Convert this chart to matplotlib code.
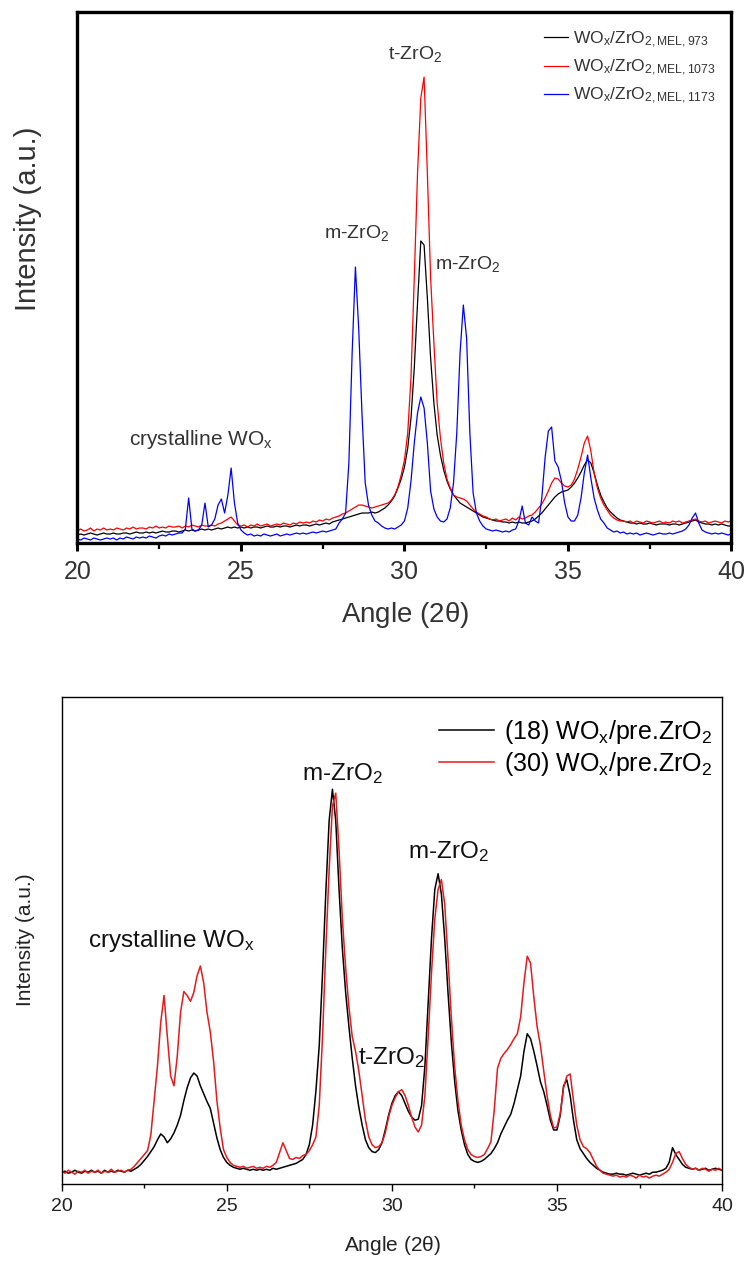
import numpy as np
import matplotlib
matplotlib.use("Agg")
import matplotlib.pyplot as plt
from matplotlib.ticker import MultipleLocator

plt.rcParams['font.family'] = ['Liberation Sans', 'DejaVu Sans']
plt.rcParams['mathtext.fontset'] = 'custom'
plt.rcParams['mathtext.rm'] = 'Liberation Sans'
plt.rcParams['mathtext.it'] = 'Liberation Sans:italic'

# scan angles, 0.1 deg step
angle = np.round(np.linspace(20.0, 40.0, 201), 1)

# ---------------- MEL series (intensity, a.u.) ----------------
mel_973 = [
    8, 9, 8, 9, 10, 9, 8, 9, 10, 9,
    9, 10, 9, 9, 10, 10, 9, 10, 11, 10,
    10, 11, 10, 11, 10, 11, 12, 11, 11, 12,
    12, 11, 12, 13, 12, 13, 12, 13, 14, 13,
    14, 13, 14, 15, 14, 15, 16, 15, 16, 15,
    16, 15, 16, 15, 16, 16, 15, 16, 17, 16,
    16, 17, 16, 17, 17, 16, 17, 18, 17, 18,
    18, 17, 18, 19, 18, 19, 20, 19, 21, 22,
    23, 24, 25, 26, 27, 28, 29, 30, 30, 30,
    31, 30, 31, 33, 35, 38, 42, 47, 55, 64,
    76, 95, 125, 175, 240, 302, 298, 245, 185, 140,
    108, 88, 73, 62, 54, 48, 44, 40, 38, 36,
    34, 32, 30, 28, 26, 25, 24, 23, 22, 22,
    21, 21, 20, 21, 20, 21, 20, 20, 21, 22,
    24, 27, 30, 34, 38, 42, 46, 49, 51, 52,
    53, 56, 60, 65, 71, 78, 83, 80, 70, 58,
    48, 41, 35, 31, 28, 25, 23, 22, 21, 20,
    20, 19, 20, 19, 19, 20, 19, 18, 19, 19,
    19, 18, 19, 19, 18, 19, 20, 21, 22, 23,
    21, 20, 19, 19, 18, 19, 18, 19, 18, 17,
    17]

mel_1073 = [
    12, 14, 12, 13, 15, 12, 14, 13, 15, 13,
    14, 13, 15, 14, 13, 15, 14, 16, 14, 15,
    15, 14, 16, 15, 17, 15, 16, 15, 17, 16,
    16, 17, 15, 17, 16, 18, 17, 16, 18, 17,
    17, 18, 17, 19, 20, 22, 24, 26, 22, 18,
    17, 18, 16, 18, 17, 19, 17, 18, 19, 17,
    18, 19, 18, 20, 19, 18, 20, 19, 21, 20,
    21, 20, 22, 21, 23, 22, 24, 23, 25, 26,
    27, 29, 30, 32, 34, 36, 38, 38, 37, 36,
    35, 36, 37, 38, 39, 40, 43, 48, 56, 68,
    83, 110, 166, 265, 370, 445, 466, 370, 265, 200,
    140, 105, 80, 64, 55, 48, 46, 45, 44, 42,
    38, 34, 31, 29, 27, 26, 24, 23, 24, 22,
    23, 24, 22, 25, 23, 26, 24, 25, 27, 28,
    31, 35, 39, 45, 52, 60, 65, 64, 60, 57,
    56, 58, 64, 74, 86, 100, 107, 92, 70, 55,
    45, 38, 33, 28, 25, 23, 22, 22, 21, 22,
    20, 22, 21, 20, 22, 21, 20, 21, 22, 20,
    21, 20, 22, 21, 22, 20, 21, 22, 23, 24,
    22, 21, 22, 20, 21, 22, 21, 20, 22, 21,
    22]

mel_1173 = [
    4, 3, 5, 4, 3, 5, 4, 3, 4, 5,
    4, 5, 3, 5, 4, 6, 5, 4, 6, 5,
    6, 5, 7, 6, 5, 7, 8, 7, 9, 8,
    9, 10, 10, 14, 45, 14, 12, 13, 18, 40,
    16, 18, 24, 38, 44, 30, 48, 75, 40, 20,
    13, 10, 8, 9, 7, 8, 7, 9, 8, 7,
    8, 9, 7, 8, 9, 8, 9, 10, 9, 10,
    9, 10, 11, 10, 11, 12, 11, 12, 13, 14,
    20, 24, 30, 80, 190, 276, 215, 130, 60, 38,
    28, 22, 20, 17, 15, 14, 15, 14, 16, 18,
    22, 35, 62, 100, 130, 146, 135, 100, 52, 34,
    26, 22, 21, 24, 35, 60, 110, 190, 238, 205,
    110, 50, 30, 22, 17, 14, 13, 12, 13, 12,
    11, 12, 11, 13, 14, 22, 37, 20, 18, 26,
    22, 20, 45, 85, 112, 116, 82, 76, 62, 40,
    26, 22, 22, 28, 45, 70, 88, 65, 45, 33,
    24, 20, 15, 13, 11, 12, 10, 11, 9, 10,
    9, 10, 8, 9, 10, 9, 8, 9, 10, 9,
    9, 10, 9, 10, 11, 12, 14, 18, 25, 30,
    20, 13, 11, 10, 9, 10, 9, 10, 9, 8,
    9]

mel_labels = [r'$\mathregular{WO_x/ZrO_{2,MEL,973}}$',
              r'$\mathregular{WO_x/ZrO_{2,MEL,1073}}$',
              r'$\mathregular{WO_x/ZrO_{2,MEL,1173}}$']

# ---------------- pre.ZrO2 series ----------------
pre_18 = [
    12, 13, 11, 12, 14, 12, 11, 13, 12, 14,
    12, 13, 11, 14, 12, 13, 12, 14, 13, 12,
    14, 13, 15, 17, 20, 24, 28, 33, 38, 45,
    51, 48, 42, 46, 52, 60, 70, 85, 98, 108,
    113, 110, 100, 92, 84, 77, 62, 47, 35, 27,
    22, 19, 17, 16, 15, 16, 15, 14, 15, 14,
    15, 14, 15, 14, 16, 15, 16, 17, 18, 19,
    20, 21, 23, 25, 30, 40, 60, 95, 141, 215,
    298, 370, 402, 370, 300, 240, 195, 160, 128, 100,
    78, 60, 45, 37, 33, 32, 35, 42, 55, 70,
    82, 90, 94, 90, 82, 74, 68, 65, 66, 80,
    120, 185, 250, 300, 316, 295, 250, 195, 145, 105,
    75, 55, 40, 30, 25, 23, 22, 23, 25, 28,
    31, 36, 42, 51, 58, 65, 71, 82, 96, 110,
    135, 153, 148, 135, 120, 104, 94, 80, 65, 55,
    55, 70, 100, 106, 90, 65, 45, 36, 31, 26,
    22, 19, 16, 14, 12, 11, 10, 10, 11, 10,
    10, 9, 10, 11, 10, 9, 10, 11, 10, 12,
    12, 13, 14, 16, 22, 37, 30, 25, 20, 17,
    16, 15, 16, 14, 15, 16, 14, 15, 16, 15,
    14]

pre_30 = [
    13, 11, 14, 12, 10, 13, 12, 14, 11, 13,
    12, 14, 11, 13, 12, 15, 12, 13, 14, 12,
    14, 15, 18, 22, 26, 30, 34, 50, 85, 120,
    165, 192, 150, 110, 100, 130, 175, 196, 192, 186,
    195, 212, 222, 205, 175, 155, 125, 85, 57, 35,
    27, 22, 19, 18, 17, 18, 16, 17, 18, 16,
    17, 16, 18, 17, 19, 22, 32, 42, 34, 26,
    25, 27, 26, 29, 30, 34, 40, 48, 80, 150,
    240, 320, 385, 398, 340, 270, 220, 180, 150, 135,
    115, 90, 65, 48, 40, 37, 38, 42, 52, 68,
    80, 88, 94, 96, 90, 80, 68, 58, 53, 60,
    90, 150, 215, 270, 300, 310, 285, 230, 170, 120,
    85, 60, 45, 35, 30, 28, 27, 28, 30, 36,
    43, 75, 118, 128, 133, 137, 142, 148, 153, 170,
    205, 232, 225, 190, 160, 141, 115, 90, 70, 57,
    58, 72, 98, 110, 112, 85, 60, 45, 38, 36,
    32, 25, 18, 14, 11, 10, 9, 8, 9, 7,
    8, 7, 9, 8, 6, 9, 7, 8, 6, 8,
    9, 8, 10, 12, 15, 22, 31, 33, 26, 20,
    17, 15, 16, 14, 16, 15, 13, 15, 14, 16,
    14]

pre_labels = [r'(18) WO$\mathregular{_x}$/pre.ZrO$\mathregular{_2}$',
              r'(30) WO$\mathregular{_x}$/pre.ZrO$\mathregular{_2}$']

fig = plt.figure(figsize=(7.47, 12.64), dpi=100)

# ----------------------------
# Top panel
# ----------------------------
ax1 = fig.add_axes([0.1037, 0.5704, 0.8755, 0.4201])
ax1.plot(angle, mel_973, color='black', lw=0.9, label=mel_labels[0])
ax1.plot(angle, mel_1073, color='#ff0000', lw=0.9, label=mel_labels[1])
ax1.plot(angle, mel_1173, color='#0000ff', lw=0.9, label=mel_labels[2])
ax1.set_xlim(20, 40)
ax1.set_ylim(0, 531)
ax1.set_yticks([])
ax1.xaxis.set_major_locator(MultipleLocator(5))
ax1.xaxis.set_minor_locator(MultipleLocator(2.5))
ax1.tick_params(axis='x', which='major', direction='out', length=6, width=2.2,
                labelsize=18, labelcolor='#333333', pad=6)
ax1.tick_params(axis='x', which='minor', direction='out', length=4, width=1.6)
for s in ax1.spines.values():
    s.set_linewidth(2.4)

txt = dict(color='#333333', fontsize=14, ha='center', va='center')
ax1.text(30.33, 489, r't-ZrO$\mathregular{_2}$', **txt)
ax1.text(28.53, 310, r'm-ZrO$\mathregular{_2}$', **txt)
ax1.text(31.93, 279, r'm-ZrO$\mathregular{_2}$', **txt)
ax1.text(23.78, 104, r'crystalline WO$\mathregular{_x}$', fontsize=15,
         color='#333333', ha='center', va='center')

leg1 = ax1.legend(loc='upper right', bbox_to_anchor=(0.995, 0.99), frameon=False,
                  fontsize=12.5, handlelength=1.4, handletextpad=0.3,
                  labelspacing=0.45, borderaxespad=0.3)
for t in leg1.get_texts():
    t.set_color('#333333')

fig.text(0.0375, 0.827, 'Intensity (a.u.)', rotation=90, fontsize=21,
         color='#333333', ha='center', va='center')
fig.text(0.542, 0.5134, r'Angle (2$\mathregular{\theta}$)', fontsize=20,
         color='#333333', ha='center', va='center')

# ----------------------------
# Bottom panel
# ----------------------------
ax2 = fig.add_axes([0.0826, 0.0633, 0.884, 0.3853])
ax2.plot(angle, pre_18, color='black', lw=1.1, label=pre_labels[0])
ax2.plot(angle, pre_30, color='#e41a1c', lw=1.1, label=pre_labels[1])
ax2.set_xlim(20, 40)
ax2.set_ylim(0, 496)
ax2.set_yticks([])
ax2.xaxis.set_major_locator(MultipleLocator(5))
ax2.xaxis.set_minor_locator(MultipleLocator(2.5))
ax2.tick_params(axis='x', which='major', direction='out', length=5, width=1.0,
                labelsize=14, labelcolor='#222222', pad=5)
ax2.tick_params(axis='x', which='minor', direction='out', length=3, width=1.0)
for s in ax2.spines.values():
    s.set_linewidth(1.0)

txt2 = dict(color='#111111', fontsize=17.5, ha='center', va='center')
ax2.text(28.51, 418, r'm-ZrO$\mathregular{_2}$', **txt2)
ax2.text(31.71, 339, r'm-ZrO$\mathregular{_2}$', **txt2)
ax2.text(30.0, 129, r't-ZrO$\mathregular{_2}$', **txt2)
ax2.text(23.33, 247, r'crystalline WO$\mathregular{_x}$', **txt2)

leg2 = ax2.legend(loc='upper right', bbox_to_anchor=(1.012, 0.993), frameon=False,
                  fontsize=18, handlelength=2.2, handletextpad=0.4,
                  labelspacing=0.15, borderaxespad=0.3)

fig.text(0.0335, 0.2563, 'Intensity (a.u.)', rotation=90, fontsize=15,
         color='#222222', ha='center', va='center')
fig.text(0.525, 0.015, r'Angle (2$\mathregular{\theta}$)', fontsize=15,
         color='#222222', ha='center', va='center')

fig.savefig('out.png', dpi=100)
